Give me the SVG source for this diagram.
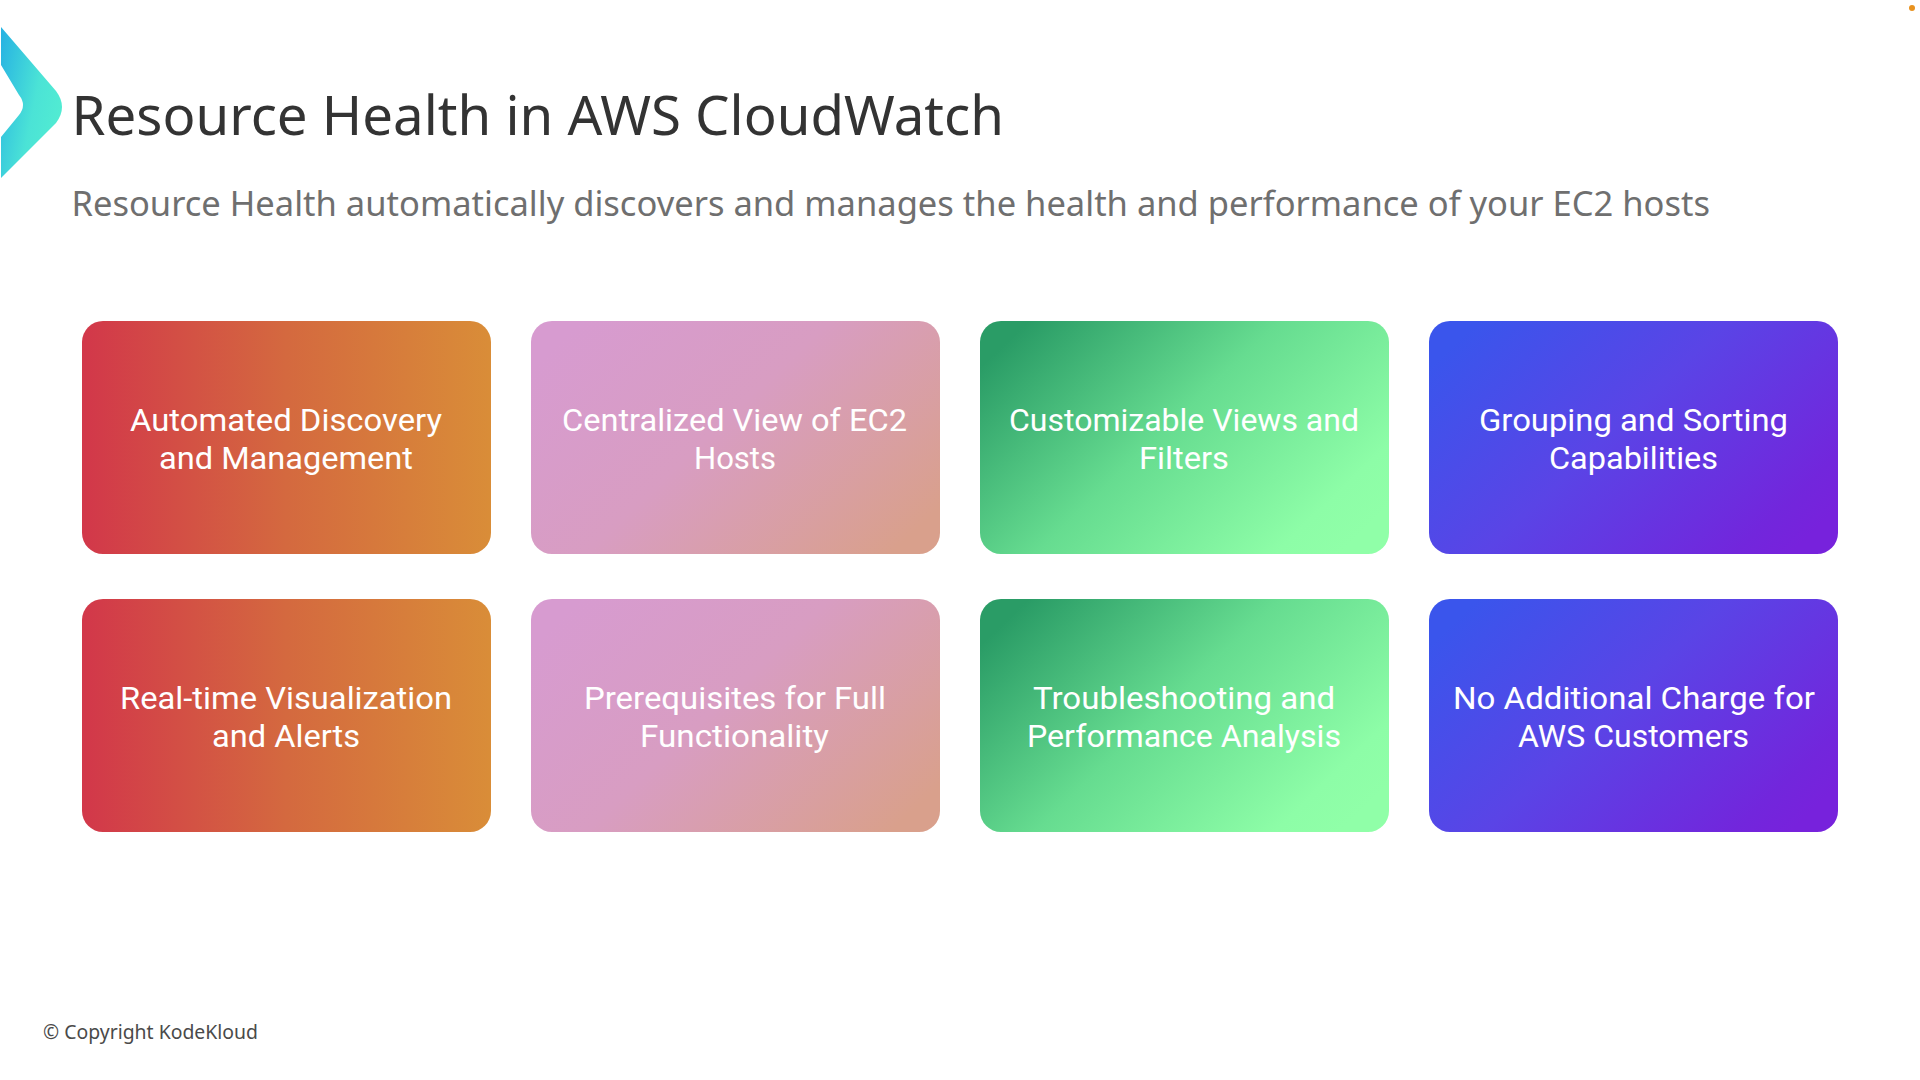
<svg xmlns="http://www.w3.org/2000/svg" width="1920" height="1080" viewBox="0 0 1920 1080">
<style>
text{font-family:"Noto Sans","Open Sans","Liberation Sans",sans-serif}
.c{font-family:Roboto,"Noto Sans",sans-serif;font-size:32px;fill:#fff;text-anchor:start}
.card{width:409px;height:233px}
</style>
<defs>
<linearGradient id="logoG" x1="0" y1="0.1" x2="1" y2="0.6"><stop offset="0" stop-color="#28b4e2"/><stop offset="0.6" stop-color="#4be3d6"/><stop offset="1" stop-color="#52ecd2"/></linearGradient>
<linearGradient id="gR" x1="0" y1="0.5" x2="1" y2="0.5"><stop offset="0" stop-color="#d2374a"/><stop offset="0.5" stop-color="#d4693f"/><stop offset="1" stop-color="#d98d38"/></linearGradient>
<linearGradient id="gP" x1="0" y1="0.2" x2="1" y2="0.8"><stop offset="0" stop-color="#d79bd0"/><stop offset="0.45" stop-color="#d89dc2"/><stop offset="1" stop-color="#d9a08c"/></linearGradient>
<linearGradient id="gG" x1="0" y1="0.2" x2="1" y2="0.8"><stop offset="0" stop-color="#2a9c66"/><stop offset="0.45" stop-color="#66dc90"/><stop offset="0.88" stop-color="#8dfda7"/><stop offset="1" stop-color="#90ffa8"/></linearGradient>
<linearGradient id="gB" x1="0" y1="0.2" x2="1" y2="0.8"><stop offset="0" stop-color="#3a55ec"/><stop offset="0.45" stop-color="#5a44e6"/><stop offset="0.9" stop-color="#7226dc"/><stop offset="1" stop-color="#7722dc"/></linearGradient>
</defs>
<rect width="1920" height="1080" fill="#fff"/>
<g id="logo"><path d="M1 27L56 91Q68 107 56 123L1 178V137L19 115Q27 105 19 95L1 65Z" fill="url(#logoG)"/></g>
<circle id="dot" cx="1912" cy="8" r="3" fill="#e8921f"/>
<g id="header">
<text x="71.500" y="135" font-size="54" fill="#333" textLength="932.500" lengthAdjust="spacingAndGlyphs">Resource Health in AWS CloudWatch</text>
<text x="71.500" y="216" font-size="35" fill="#6f6f6f" textLength="1638.500" lengthAdjust="spacingAndGlyphs">Resource Health automatically discovers and manages the health and performance of your EC2 hosts</text>
</g>
<g id="node1"><rect class="card" x="82" y="321" rx="21" fill="url(#gR)"/><text class="c" x="130" y="431" textLength="312" lengthAdjust="spacingAndGlyphs">Automated Discovery</text><text class="c" x="159" y="469" textLength="254" lengthAdjust="spacingAndGlyphs">and Management</text></g>
<g id="node2"><rect class="card" x="531" y="321" rx="21" fill="url(#gP)"/><text class="c" x="562" y="431" textLength="345" lengthAdjust="spacingAndGlyphs">Centralized View of EC2</text><text class="c" x="694" y="469" textLength="82" lengthAdjust="spacingAndGlyphs">Hosts</text></g>
<g id="node3"><rect class="card" x="980" y="321" rx="21" fill="url(#gG)"/><text class="c" x="1009" y="431" textLength="350" lengthAdjust="spacingAndGlyphs">Customizable Views and</text><text class="c" x="1139" y="469" textLength="90" lengthAdjust="spacingAndGlyphs">Filters</text></g>
<g id="node4"><rect class="card" x="1429" y="321" rx="21" fill="url(#gB)"/><text class="c" x="1479" y="431" textLength="309" lengthAdjust="spacingAndGlyphs">Grouping and Sorting</text><text class="c" x="1549" y="469" textLength="169" lengthAdjust="spacingAndGlyphs">Capabilities</text></g>
<g id="node5"><rect class="card" x="82" y="599" rx="21" fill="url(#gR)"/><text class="c" x="120" y="709" textLength="332" lengthAdjust="spacingAndGlyphs">Real-time Visualization</text><text class="c" x="212" y="747" textLength="148" lengthAdjust="spacingAndGlyphs">and Alerts</text></g>
<g id="node6"><rect class="card" x="531" y="599" rx="21" fill="url(#gP)"/><text class="c" x="584" y="709" textLength="302" lengthAdjust="spacingAndGlyphs">Prerequisites for Full</text><text class="c" x="640" y="747" textLength="189" lengthAdjust="spacingAndGlyphs">Functionality</text></g>
<g id="node7"><rect class="card" x="980" y="599" rx="21" fill="url(#gG)"/><text class="c" x="1033" y="709" textLength="302" lengthAdjust="spacingAndGlyphs">Troubleshooting and</text><text class="c" x="1027" y="747" textLength="314" lengthAdjust="spacingAndGlyphs">Performance Analysis</text></g>
<g id="node8"><rect class="card" x="1429" y="599" rx="21" fill="url(#gB)"/><text class="c" x="1453" y="709" textLength="362" lengthAdjust="spacingAndGlyphs">No Additional Charge for</text><text class="c" x="1518" y="747" textLength="231" lengthAdjust="spacingAndGlyphs">AWS Customers</text></g>
<text id="footer" x="43" y="1039" font-size="20" fill="#4a4a4a" textLength="215" lengthAdjust="spacingAndGlyphs">© Copyright KodeKloud</text>
<g id="connectors"/>
</svg>
